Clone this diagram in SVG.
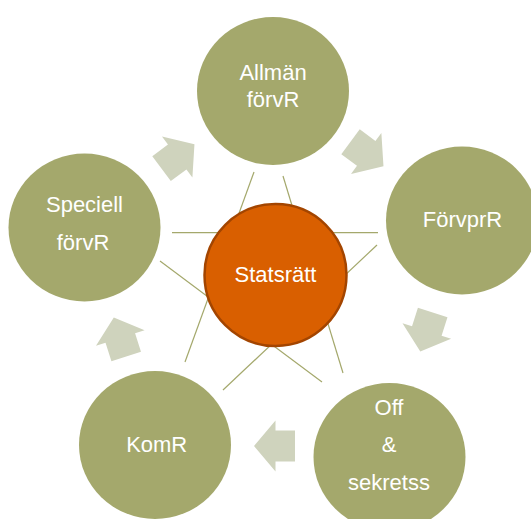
<svg xmlns="http://www.w3.org/2000/svg" width="531" height="519" viewBox="0 0 531 519">
<style>
.outer{fill:#a4a86c}
.arrow{fill:#cfd3bd}
.line{stroke:#a4a86c;stroke-width:1.2;fill:none}
.center{fill:#d95f00;stroke:#a34500;stroke-width:2.5}
text{font-family:"Liberation Sans",Arial,sans-serif;font-size:22px;fill:#ffffff;text-anchor:middle}
</style>
<defs>
<polygon id="blk" points="-20.5,-15.5 -1,-15.5 -1,-25.5 20.5,0 -1,25.5 -1,15.5 -20.5,15.5"/>
</defs>
<g id="connectors">
<line class="line" x1="254" y1="172" x2="185" y2="362"/>
<line class="line" x1="283" y1="176" x2="343" y2="373"/>
<line class="line" x1="172" y1="232.7" x2="378" y2="232.7"/>
<line class="line" x1="377" y1="245" x2="223" y2="390"/>
<line class="line" x1="160" y1="261" x2="322" y2="382"/>
<use href="#blk" class="arrow" transform="translate(178,156.4) rotate(-36.6)"/>
<use href="#blk" class="arrow" transform="translate(367,154) rotate(36.5)"/>
<use href="#blk" class="arrow" transform="translate(426.5,332) rotate(107.6)"/>
<use href="#blk" class="arrow" transform="translate(274.5,446) rotate(180)"/>
<use href="#blk" class="arrow" transform="translate(120,337) rotate(-107.6)"/>
</g>
<g id="node-allman">
<ellipse class="outer" cx="273" cy="91" rx="76" ry="74"/>
<text x="273" y="80">Allmän</text>
<text x="273" y="107.3">förvR</text>
</g>
<g id="node-forvprr">
<ellipse class="outer" cx="462" cy="220.5" rx="76" ry="74"/>
<text x="462.5" y="227.3">FörvprR</text>
</g>
<g id="node-off">
<ellipse class="outer" cx="389.5" cy="457" rx="76" ry="74"/>
<text x="389" y="415">Off</text>
<text x="389" y="451.7">&amp;</text>
<text x="389" y="490">sekretss</text>
</g>
<g id="node-komr">
<ellipse class="outer" cx="155" cy="445" rx="76" ry="74"/>
<text x="156.7" y="451.7">KomR</text>
</g>
<g id="node-speciell">
<ellipse class="outer" cx="84.5" cy="227.5" rx="76" ry="74"/>
<text x="84.5" y="211.7">Speciell</text>
<text x="83" y="250">förvR</text>
</g>
<g id="node-statsratt">
<circle class="center" cx="275.5" cy="275" r="71"/>
<text x="275.5" y="282">Statsrätt</text>
</g>
</svg>
